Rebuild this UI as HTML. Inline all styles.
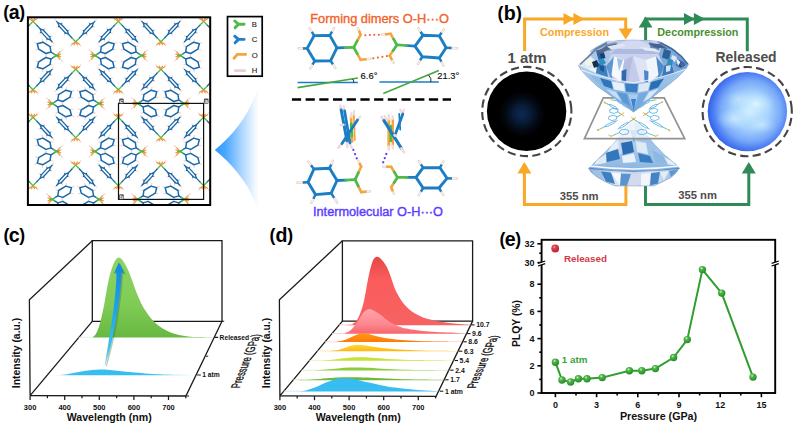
<!DOCTYPE html>
<html><head><meta charset="utf-8"><title>Figure</title>
<style>html,body{margin:0;padding:0;background:#fff}svg{display:block}text{font-family:"Liberation Sans",sans-serif}</style>
</head><body>
<svg width="794" height="424" viewBox="0 0 794 424">
<rect width="794" height="424" fill="#fff"/>
<clipPath id="clA"><rect x="28" y="17.5" width="182" height="187.5"/></clipPath><g clip-path="url(#clA)" fill="none" stroke-linecap="round" stroke-linejoin="round"><defs><g id="vgA"><path d="M10.6 -22.9L11.5 -20.4" stroke="#f1d6d0" stroke-width="1.2"/><path d="M10.5 -23L10.8 -22.2" stroke="#1d3a5c" stroke-width="1.1"/><path d="M16.4 -29.1L18.9 -28.3" stroke="#f1d6d0" stroke-width="1.2"/><path d="M16.3 -29.2L17.1 -28.9" stroke="#1d3a5c" stroke-width="1.1"/><path d="M8.5 -24.8L6 -25.6" stroke="#f1d6d0" stroke-width="1.2"/><path d="M8.6 -24.7L7.8 -25" stroke="#1d3a5c" stroke-width="1.1"/><path d="M14.3 -31L13.4 -33.5" stroke="#f1d6d0" stroke-width="1.2"/><path d="M14.4 -30.9L14 -31.7" stroke="#1d3a5c" stroke-width="1.1"/><path d="M19.1 -34.1L20.7 -35.8" stroke="#f1d6d0" stroke-width="1.2"/><path d="M0.3 -14L4 -17.9" stroke="#4cb648" stroke-width="1.3"/><path d="M3.9 -17.8L7.2 -21.3" stroke="#186aab" stroke-width="1.3"/><path d="M7.2 -21.3L10.3 -22.6L16.6 -29.3L17.7 -32.6L14.5 -31.3L8.2 -24.5Z" stroke="#186aab" stroke-width="1.3" fill="none"/><path d="M17.7 -32.6L19.1 -34.1" stroke="#186aab" stroke-width="1.3"/><path d="M-8.5 -24.8L-6 -25.6" stroke="#f1d6d0" stroke-width="1.2"/><path d="M-8.6 -24.7L-7.8 -25" stroke="#1d3a5c" stroke-width="1.1"/><path d="M-14.3 -31L-13.4 -33.5" stroke="#f1d6d0" stroke-width="1.2"/><path d="M-14.4 -30.9L-14 -31.7" stroke="#1d3a5c" stroke-width="1.1"/><path d="M-10.6 -22.9L-11.5 -20.4" stroke="#f1d6d0" stroke-width="1.2"/><path d="M-10.5 -23L-10.8 -22.2" stroke="#1d3a5c" stroke-width="1.1"/><path d="M-16.4 -29.1L-18.9 -28.3" stroke="#f1d6d0" stroke-width="1.2"/><path d="M-16.3 -29.2L-17.1 -28.9" stroke="#1d3a5c" stroke-width="1.1"/><path d="M-19.1 -34.1L-20.7 -35.8" stroke="#f1d6d0" stroke-width="1.2"/><path d="M-0.3 -14L-4 -17.9" stroke="#4cb648" stroke-width="1.3"/><path d="M-3.9 -17.8L-7.2 -21.3" stroke="#186aab" stroke-width="1.3"/><path d="M-7.2 -21.3L-8.2 -24.5L-14.5 -31.3L-17.7 -32.6L-16.6 -29.3L-10.3 -22.6Z" stroke="#186aab" stroke-width="1.3" fill="none"/><path d="M-17.7 -32.6L-19.1 -34.1" stroke="#186aab" stroke-width="1.3"/><path d="M-3.7 -11L-5.2 -9.3" stroke="#f1d6d0" stroke-width="1.1"/><path d="M3.7 -11L5.2 -9.3" stroke="#f1d6d0" stroke-width="1.1"/><path d="M-0.8 -13.1L-3.9 -11.2" stroke="#e9993a" stroke-width="1.25"/><path d="M-0.3 -13.1L-1.6 -10.7" stroke="#e9993a" stroke-width="1.25"/><path d="M0.3 -13.1L1.6 -10.7" stroke="#e9993a" stroke-width="1.25"/><path d="M0.8 -13.1L3.9 -11.2" stroke="#e9993a" stroke-width="1.25"/><path d="M8.5 24.8L6 25.6" stroke="#f1d6d0" stroke-width="1.2"/><path d="M8.6 24.7L7.8 25" stroke="#1d3a5c" stroke-width="1.1"/><path d="M14.3 31L13.4 33.5" stroke="#f1d6d0" stroke-width="1.2"/><path d="M14.4 30.9L14 31.7" stroke="#1d3a5c" stroke-width="1.1"/><path d="M10.6 22.9L11.5 20.4" stroke="#f1d6d0" stroke-width="1.2"/><path d="M10.5 23L10.8 22.2" stroke="#1d3a5c" stroke-width="1.1"/><path d="M16.4 29.1L18.9 28.3" stroke="#f1d6d0" stroke-width="1.2"/><path d="M16.3 29.2L17.1 28.9" stroke="#1d3a5c" stroke-width="1.1"/><path d="M19.1 34.1L20.7 35.8" stroke="#f1d6d0" stroke-width="1.2"/><path d="M0.3 14L4 17.9" stroke="#4cb648" stroke-width="1.3"/><path d="M3.9 17.8L7.2 21.3" stroke="#186aab" stroke-width="1.3"/><path d="M7.2 21.3L8.2 24.5L14.5 31.3L17.7 32.6L16.6 29.3L10.3 22.6Z" stroke="#186aab" stroke-width="1.3" fill="none"/><path d="M17.7 32.6L19.1 34.1" stroke="#186aab" stroke-width="1.3"/><path d="M-10.6 22.9L-11.5 20.4" stroke="#f1d6d0" stroke-width="1.2"/><path d="M-10.5 23L-10.8 22.2" stroke="#1d3a5c" stroke-width="1.1"/><path d="M-16.4 29.1L-18.9 28.3" stroke="#f1d6d0" stroke-width="1.2"/><path d="M-16.3 29.2L-17.1 28.9" stroke="#1d3a5c" stroke-width="1.1"/><path d="M-8.5 24.8L-6 25.6" stroke="#f1d6d0" stroke-width="1.2"/><path d="M-8.6 24.7L-7.8 25" stroke="#1d3a5c" stroke-width="1.1"/><path d="M-14.3 31L-13.4 33.5" stroke="#f1d6d0" stroke-width="1.2"/><path d="M-14.4 30.9L-14 31.7" stroke="#1d3a5c" stroke-width="1.1"/><path d="M-19.1 34.1L-20.7 35.8" stroke="#f1d6d0" stroke-width="1.2"/><path d="M-0.3 14L-4 17.9" stroke="#4cb648" stroke-width="1.3"/><path d="M-3.9 17.8L-7.2 21.3" stroke="#186aab" stroke-width="1.3"/><path d="M-7.2 21.3L-10.3 22.6L-16.6 29.3L-17.7 32.6L-14.5 31.3L-8.2 24.5Z" stroke="#186aab" stroke-width="1.3" fill="none"/><path d="M-17.7 32.6L-19.1 34.1" stroke="#186aab" stroke-width="1.3"/><path d="M-3.7 11L-5.2 9.3" stroke="#f1d6d0" stroke-width="1.1"/><path d="M3.7 11L5.2 9.3" stroke="#f1d6d0" stroke-width="1.1"/><path d="M-0.8 13.1L-3.9 11.2" stroke="#e9993a" stroke-width="1.25"/><path d="M-0.3 13.1L-1.6 10.7" stroke="#e9993a" stroke-width="1.25"/><path d="M0.3 13.1L1.6 10.7" stroke="#e9993a" stroke-width="1.25"/><path d="M0.8 13.1L3.9 11.2" stroke="#e9993a" stroke-width="1.25"/></g><g id="vgF"><path d="M-25.6 -8.9L-22.9 -9.6" stroke="#f1d6d0" stroke-width="1.2"/><path d="M-32.8 -13.3L-33.5 -16.1" stroke="#f1d6d0" stroke-width="1.2"/><path d="M-38.4 -11.7L-40.8 -13.1" stroke="#f1d6d0" stroke-width="1.2"/><path d="M-37 -6.3L-39.8 -5.7" stroke="#f1d6d0" stroke-width="1.2"/><path d="M-29.8 -2L-29.1 0.6" stroke="#f1d6d0" stroke-width="1.2"/><path d="M-24.8 -3.5L-25.6 -8.9L-32.8 -13.3L-38.4 -11.7L-37 -6.3L-29.8 -2Z" stroke="#186aab" stroke-width="1.5" fill="none"/><path d="M-24.8 -3.5L-21.9 -1.7" stroke="#186aab" stroke-width="1.4"/><path d="M-21.9 -1.7L-18.9 0" stroke="#4cb648" stroke-width="1.4"/><path d="M-25.6 8.9L-22.9 9.6" stroke="#f1d6d0" stroke-width="1.2"/><path d="M-32.8 13.3L-33.5 16.1" stroke="#f1d6d0" stroke-width="1.2"/><path d="M-38.4 11.7L-40.8 13.1" stroke="#f1d6d0" stroke-width="1.2"/><path d="M-37 6.3L-39.8 5.7" stroke="#f1d6d0" stroke-width="1.2"/><path d="M-29.8 2L-29.1 -0.6" stroke="#f1d6d0" stroke-width="1.2"/><path d="M-24.8 3.5L-25.6 8.9L-32.8 13.3L-38.4 11.7L-37 6.3L-29.8 2Z" stroke="#186aab" stroke-width="1.5" fill="none"/><path d="M-24.8 3.5L-21.9 1.7" stroke="#186aab" stroke-width="1.4"/><path d="M-21.9 1.7L-18.9 0" stroke="#4cb648" stroke-width="1.4"/><path d="M-15.5 -3.9L-13.3 -5.6" stroke="#f1d6d0" stroke-width="1.1"/><path d="M-15.5 3.9L-13.3 5.6" stroke="#f1d6d0" stroke-width="1.1"/><path d="M-18.4 -0.7L-15.9 -3.6" stroke="#e9993a" stroke-width="1.25"/><path d="M-18.4 -0.3L-15 -1.4" stroke="#e9993a" stroke-width="1.25"/><path d="M-18.4 0.3L-15 1.4" stroke="#e9993a" stroke-width="1.25"/><path d="M-18.4 0.7L-15.9 3.6" stroke="#e9993a" stroke-width="1.25"/><path d="M-20.4 0L-17.3 0" stroke="#4cb648" stroke-width="1.8"/><path d="M25.6 -8.9L22.9 -9.6" stroke="#f1d6d0" stroke-width="1.2"/><path d="M32.8 -13.3L33.5 -16.1" stroke="#f1d6d0" stroke-width="1.2"/><path d="M38.4 -11.7L40.8 -13.1" stroke="#f1d6d0" stroke-width="1.2"/><path d="M37 -6.3L39.8 -5.7" stroke="#f1d6d0" stroke-width="1.2"/><path d="M29.8 -2L29.1 0.6" stroke="#f1d6d0" stroke-width="1.2"/><path d="M24.8 -3.5L25.6 -8.9L32.8 -13.3L38.4 -11.7L37 -6.3L29.8 -2Z" stroke="#186aab" stroke-width="1.5" fill="none"/><path d="M24.8 -3.5L21.9 -1.7" stroke="#186aab" stroke-width="1.4"/><path d="M21.9 -1.7L18.9 0" stroke="#4cb648" stroke-width="1.4"/><path d="M25.6 8.9L22.9 9.6" stroke="#f1d6d0" stroke-width="1.2"/><path d="M32.8 13.3L33.5 16.1" stroke="#f1d6d0" stroke-width="1.2"/><path d="M38.4 11.7L40.8 13.1" stroke="#f1d6d0" stroke-width="1.2"/><path d="M37 6.3L39.8 5.7" stroke="#f1d6d0" stroke-width="1.2"/><path d="M29.8 2L29.1 -0.6" stroke="#f1d6d0" stroke-width="1.2"/><path d="M24.8 3.5L25.6 8.9L32.8 13.3L38.4 11.7L37 6.3L29.8 2Z" stroke="#186aab" stroke-width="1.5" fill="none"/><path d="M24.8 3.5L21.9 1.7" stroke="#186aab" stroke-width="1.4"/><path d="M21.9 1.7L18.9 0" stroke="#4cb648" stroke-width="1.4"/><path d="M15.5 -3.9L13.3 -5.6" stroke="#f1d6d0" stroke-width="1.1"/><path d="M15.5 3.9L13.3 5.6" stroke="#f1d6d0" stroke-width="1.1"/><path d="M18.4 -0.7L15.9 -3.6" stroke="#e9993a" stroke-width="1.25"/><path d="M18.4 -0.3L15 -1.4" stroke="#e9993a" stroke-width="1.25"/><path d="M18.4 0.3L15 1.4" stroke="#e9993a" stroke-width="1.25"/><path d="M18.4 0.7L15.9 3.6" stroke="#e9993a" stroke-width="1.25"/><path d="M20.4 0L17.3 0" stroke="#4cb648" stroke-width="1.8"/></g></defs><use href="#vgA" x="-9.6" y="55.5"/><use href="#vgA" x="-9.6" y="151.4"/><use href="#vgA" x="33" y="7.6"/><use href="#vgA" x="75.7" y="55.5"/><use href="#vgF" x="75.7" y="55.5"/><use href="#vgA" x="33" y="103.5"/><use href="#vgF" x="33" y="103.5"/><use href="#vgA" x="75.7" y="151.4"/><use href="#vgF" x="75.7" y="151.4"/><use href="#vgA" x="33" y="199.4"/><use href="#vgF" x="33" y="199.4"/><use href="#vgA" x="118.3" y="7.6"/><use href="#vgA" x="160.9" y="55.5"/><use href="#vgF" x="160.9" y="55.5"/><use href="#vgA" x="118.3" y="103.5"/><use href="#vgF" x="118.3" y="103.5"/><use href="#vgA" x="160.9" y="151.4"/><use href="#vgF" x="160.9" y="151.4"/><use href="#vgA" x="118.3" y="199.4"/><use href="#vgF" x="118.3" y="199.4"/><use href="#vgA" x="203.6" y="7.6"/><use href="#vgA" x="246.2" y="55.5"/><use href="#vgA" x="203.6" y="103.5"/><use href="#vgF" x="203.6" y="103.5"/><use href="#vgA" x="246.2" y="151.4"/><use href="#vgA" x="203.6" y="199.4"/><use href="#vgF" x="203.6" y="199.4"/></g><rect x="27.9" y="17.3" width="182.3" height="187.7" fill="none" stroke="#000" stroke-width="2"/><rect x="118.5" y="103.4" width="85.1" height="96" fill="none" stroke="#111" stroke-width="1.2"/><rect x="119.1" y="98.6" width="4.6" height="5.2" rx="1" fill="#555"/><text x="121.39999999999999" y="103.0" font-size="5.6" font-weight="bold" fill="#f4f4f4" text-anchor="middle">c</text><rect x="203.9" y="98.6" width="4.6" height="5.2" rx="1" fill="#555"/><text x="206.20000000000002" y="103.0" font-size="5.6" font-weight="bold" fill="#f4f4f4" text-anchor="middle">a</text><rect x="119.1" y="194.2" width="4.6" height="5.2" rx="1" fill="#555"/><text x="121.39999999999999" y="198.6" font-size="5.6" font-weight="bold" fill="#f4f4f4" text-anchor="middle">b</text>
<text x="3.2" y="17.6" font-weight="bold" fill="#000"><tspan font-size="17.6">(</tspan><tspan font-size="19.6" dy="1.1" dx="-0.4">a</tspan><tspan font-size="17.6" dy="-1.1" dx="-0.4">)</tspan></text><rect x="227.5" y="16.6" width="34.7" height="59.6" fill="#fff" stroke="#000" stroke-width="1.7"/><g stroke="#4dbb4a" stroke-width="2.9" stroke-linecap="round" fill="none"><path d="M238.5 24.2L244.1 24.2M238.5 24.2L234.7 21M238.5 24.2L235.1 27.6"/></g><g stroke="#1f7fcc" stroke-width="2.9" stroke-linecap="round" fill="none"><path d="M238.5 39.4L244.1 39.4M238.5 39.4L234.7 36.2M238.5 39.4L235.1 42.8"/></g><path d="M234 58.2L237.3 54.4L245.6 54.4" stroke="#f4a53c" stroke-width="2.9" stroke-linecap="round" stroke-linejoin="round" fill="none"/><path d="M235.2 70.7L244.6 70.7" stroke="#eccfd0" stroke-width="2.8" stroke-linecap="round"/><text x="251.8" y="26.9" font-size="7.7" fill="#1a1a1a" stroke="#1a1a1a" stroke-width="0.12">B</text><text x="251.8" y="42" font-size="7.7" fill="#1a1a1a" stroke="#1a1a1a" stroke-width="0.12">C</text><text x="251.8" y="57.6" font-size="7.7" fill="#1a1a1a" stroke="#1a1a1a" stroke-width="0.12">O</text><text x="251.8" y="73" font-size="7.7" fill="#1a1a1a" stroke="#1a1a1a" stroke-width="0.12">H</text><defs><linearGradient id="fg" x1="214" x2="259" y1="0" y2="0" gradientUnits="userSpaceOnUse"><stop offset="0" stop-color="#2f97ff"/><stop offset="0.25" stop-color="#4aa6ff"/><stop offset="0.6" stop-color="#a8d4ff"/><stop offset="0.9" stop-color="#eef7ff"/><stop offset="1" stop-color="#fff"/></linearGradient></defs><path d="M214.8 150 C232 136 250 116 259 84 L259 212 C250 184 232 164 214.8 150Z" fill="url(#fg)"/><text x="310.3" y="23.3" font-size="12.75" fill="#f4622a" stroke="#f4622a" stroke-width="0.35" textLength="138.8" lengthAdjust="spacingAndGlyphs">Forming dimers O-H···O</text><g fill="none"><path d="M365.3 35.2L378.9 34.7" stroke="#f4622a" stroke-width="2" stroke-dasharray="0.1 4.4" stroke-linecap="round"/><path d="M373.3 58.3L387 56.1" stroke="#f4622a" stroke-width="2" stroke-dasharray="0.1 4.5" stroke-linecap="round"/><path d="M331.6 32.4L334.2 28" stroke="#e3c9c3" stroke-width="2.3779999999999997" stroke-linecap="round"/><path d="M331.8 32L334 28.4" stroke="#fbf1ee" stroke-width="1.392" stroke-linecap="round"/><path d="M329.8 35.4L332 31.7" stroke="#1b7ec4" stroke-width="2.465" stroke-linecap="butt"/><path d="M312.3 32.7L309.6 28.3" stroke="#e3c9c3" stroke-width="2.3779999999999997" stroke-linecap="round"/><path d="M312 32.2L309.8 28.6" stroke="#fbf1ee" stroke-width="1.392" stroke-linecap="round"/><path d="M314.1 35.6L311.9 31.9" stroke="#1b7ec4" stroke-width="2.465" stroke-linecap="butt"/><path d="M303.8 48.4L298.6 48.3" stroke="#e3c9c3" stroke-width="2.3779999999999997" stroke-linecap="round"/><path d="M303.2 48.4L299 48.3" stroke="#fbf1ee" stroke-width="1.392" stroke-linecap="round"/><path d="M307.2 48.4L302.9 48.4" stroke="#1b7ec4" stroke-width="2.465" stroke-linecap="butt"/><path d="M313 64L310.4 68.4" stroke="#e3c9c3" stroke-width="2.3779999999999997" stroke-linecap="round"/><path d="M312.7 64.4L310.6 68.1" stroke="#fbf1ee" stroke-width="1.392" stroke-linecap="round"/><path d="M314.7 61L312.5 64.7" stroke="#1b7ec4" stroke-width="2.465" stroke-linecap="butt"/><path d="M332.5 63.6L335.4 67.9" stroke="#e3c9c3" stroke-width="2.3779999999999997" stroke-linecap="round"/><path d="M332.7 64.1L335.2 67.5" stroke="#fbf1ee" stroke-width="1.392" stroke-linecap="round"/><path d="M330.5 60.8L332.9 64.3" stroke="#1b7ec4" stroke-width="2.465" stroke-linecap="butt"/><path d="M359.4 31.7L358 28.2" stroke="#e3c9c3" stroke-width="2.3779999999999997" stroke-linecap="round"/><path d="M359.3 31.4L358.1 28.5" stroke="#fbf1ee" stroke-width="1.392" stroke-linecap="round"/><path d="M365 59.3L370.4 58.8" stroke="#e3c9c3" stroke-width="2.3779999999999997" stroke-linecap="round"/><path d="M365.5 59.3L370 58.8" stroke="#fbf1ee" stroke-width="1.392" stroke-linecap="round"/><path d="M360.6 34.6L359.3 31.4" stroke="#f4a53c" stroke-width="2.61" stroke-linecap="round"/><path d="M360.6 59.8L365.5 59.3" stroke="#f4a53c" stroke-width="2.61" stroke-linecap="round"/><path d="M357.2 41L360.6 34.6" stroke="#f4a53c" stroke-width="2.61" stroke-linecap="round"/><path d="M357.2 53.5L360.6 59.8" stroke="#f4a53c" stroke-width="2.61" stroke-linecap="round"/><path d="M353.8 47.3L357.3 40.7" stroke="#4dbb4a" stroke-width="2.755" stroke-linecap="round"/><path d="M353.8 47.3L357.3 53.8" stroke="#4dbb4a" stroke-width="2.755" stroke-linecap="round"/><path d="M336.9 47.9L345.4 47.6" stroke="#1b7ec4" stroke-width="2.755" stroke-linecap="round"/><path d="M345 47.6L353.8 47.3" stroke="#4dbb4a" stroke-width="2.755" stroke-linecap="round"/><path d="M336.9 47.9L329.8 35.4L314.1 35.6L307.2 48.4L314.7 61L330.5 60.8Z" stroke="#1b7ec4" stroke-width="2.9" fill="none" stroke-linejoin="round"/><path d="M421.1 32.5L418.4 28.3" stroke="#e3c9c3" stroke-width="2.3779999999999997" stroke-linecap="round"/><path d="M420.8 32.1L418.6 28.6" stroke="#fbf1ee" stroke-width="1.392" stroke-linecap="round"/><path d="M422.9 35.3L420.6 31.8" stroke="#1b7ec4" stroke-width="2.465" stroke-linecap="butt"/><path d="M441.1 33.3L443.9 29.5" stroke="#e3c9c3" stroke-width="2.3779999999999997" stroke-linecap="round"/><path d="M441.4 33L443.7 29.8" stroke="#fbf1ee" stroke-width="1.392" stroke-linecap="round"/><path d="M439.3 35.9L441.6 32.7" stroke="#1b7ec4" stroke-width="2.465" stroke-linecap="butt"/><path d="M450.5 48L457 48.3" stroke="#e3c9c3" stroke-width="2.3779999999999997" stroke-linecap="round"/><path d="M451.1 48L456.5 48.3" stroke="#fbf1ee" stroke-width="1.392" stroke-linecap="round"/><path d="M446.1 47.8L451.6 48" stroke="#1b7ec4" stroke-width="2.465" stroke-linecap="butt"/><path d="M440.9 61L443.4 65.4" stroke="#e3c9c3" stroke-width="2.3779999999999997" stroke-linecap="round"/><path d="M441.2 61.4L443.2 65" stroke="#fbf1ee" stroke-width="1.392" stroke-linecap="round"/><path d="M439.3 58L441.4 61.7" stroke="#1b7ec4" stroke-width="2.465" stroke-linecap="butt"/><path d="M420.6 59.6L417.9 63.8" stroke="#e3c9c3" stroke-width="2.3779999999999997" stroke-linecap="round"/><path d="M420.3 60L418.1 63.5" stroke="#fbf1ee" stroke-width="1.392" stroke-linecap="round"/><path d="M422.4 56.8L420.1 60.3" stroke="#1b7ec4" stroke-width="2.465" stroke-linecap="butt"/><path d="M386.6 34.2L381.6 34.6" stroke="#e3c9c3" stroke-width="2.3779999999999997" stroke-linecap="round"/><path d="M386.1 34.2L382 34.6" stroke="#fbf1ee" stroke-width="1.392" stroke-linecap="round"/><path d="M391.5 58.8L393.6 62.8" stroke="#e3c9c3" stroke-width="2.3779999999999997" stroke-linecap="round"/><path d="M391.7 59.2L393.4 62.5" stroke="#fbf1ee" stroke-width="1.392" stroke-linecap="round"/><path d="M390.6 33.8L386.1 34.2" stroke="#f4a53c" stroke-width="2.61" stroke-linecap="round"/><path d="M389.7 55.6L391.6 59.2" stroke="#f4a53c" stroke-width="2.61" stroke-linecap="round"/><path d="M393.8 39.3L390.6 33.8" stroke="#f4a53c" stroke-width="2.61" stroke-linecap="round"/><path d="M393.3 50.2L389.7 55.6" stroke="#f4a53c" stroke-width="2.61" stroke-linecap="round"/><path d="M396.9 44.9L393.6 39.1" stroke="#4dbb4a" stroke-width="2.755" stroke-linecap="round"/><path d="M396.9 44.9L393.2 50.5" stroke="#4dbb4a" stroke-width="2.755" stroke-linecap="round"/><path d="M415 46.1L405.9 45.5" stroke="#1b7ec4" stroke-width="2.755" stroke-linecap="round"/><path d="M406.3 45.5L396.9 44.9" stroke="#4dbb4a" stroke-width="2.755" stroke-linecap="round"/><path d="M415 46.1L422.9 35.3L439.3 35.9L446.1 47.8L439.3 58L422.4 56.8Z" stroke="#1b7ec4" stroke-width="2.9" fill="none" stroke-linejoin="round"/></g><path d="M297.6 82.5L357.9 82.5" stroke="#1b7ec4" stroke-width="1.6"/><path d="M297.6 87.6L357.9 78" stroke="#45a83c" stroke-width="1.6"/><path d="M352.5 79 Q354.2 80.6 353.6 82.5" stroke="#111" stroke-width="0.9" fill="none"/><text x="360.6" y="78.9" font-size="9.4" fill="#111" stroke="#111" stroke-width="0.15">6.6°</text><path d="M379.4 82L438.8 82" stroke="#1b7ec4" stroke-width="1.6"/><path d="M383.3 93.4L438.8 70.6" stroke="#45a83c" stroke-width="1.6"/><path d="M428.5 75 Q432 78.5 430.8 82" stroke="#111" stroke-width="0.9" fill="none"/><text x="437.3" y="79.1" font-size="9.4" fill="#111" stroke="#111" stroke-width="0.15">21.3°</text><path d="M291.9 99.4L451 99.4" stroke="#000" stroke-width="2.5" stroke-dasharray="9.2 4.5"/><g fill="none"><path d="M330.9 165.2L332.9 160.7" stroke="#e3c9c3" stroke-width="2.3779999999999997" stroke-linecap="round"/><path d="M331.1 164.8L332.7 161.1" stroke="#fbf1ee" stroke-width="1.392" stroke-linecap="round"/><path d="M329.6 168.2L331.2 164.4" stroke="#1b7ec4" stroke-width="2.465" stroke-linecap="butt"/><path d="M311.6 166L308.1 161.6" stroke="#e3c9c3" stroke-width="2.3779999999999997" stroke-linecap="round"/><path d="M311.2 165.6L308.4 162" stroke="#fbf1ee" stroke-width="1.392" stroke-linecap="round"/><path d="M313.9 169L311 165.3" stroke="#1b7ec4" stroke-width="2.465" stroke-linecap="butt"/><path d="M303.8 182.4L297.4 182.7" stroke="#e3c9c3" stroke-width="2.3779999999999997" stroke-linecap="round"/><path d="M303.2 182.4L297.9 182.7" stroke="#fbf1ee" stroke-width="1.392" stroke-linecap="round"/><path d="M308.1 182.2L302.8 182.4" stroke="#1b7ec4" stroke-width="2.465" stroke-linecap="butt"/><path d="M313.9 197.9L311.4 202.8" stroke="#e3c9c3" stroke-width="2.3779999999999997" stroke-linecap="round"/><path d="M313.6 198.4L311.6 202.4" stroke="#fbf1ee" stroke-width="1.392" stroke-linecap="round"/><path d="M315.5 194.6L313.4 198.7" stroke="#1b7ec4" stroke-width="2.465" stroke-linecap="butt"/><path d="M333.5 196.9L337 202.5" stroke="#e3c9c3" stroke-width="2.3779999999999997" stroke-linecap="round"/><path d="M333.9 197.5L336.7 202.1" stroke="#fbf1ee" stroke-width="1.392" stroke-linecap="round"/><path d="M331.2 193.2L334.1 197.8" stroke="#1b7ec4" stroke-width="2.465" stroke-linecap="butt"/><path d="M359.9 164L358.4 161" stroke="#e3c9c3" stroke-width="2.3779999999999997" stroke-linecap="round"/><path d="M359.8 163.7L358.5 161.2" stroke="#fbf1ee" stroke-width="1.392" stroke-linecap="round"/><path d="M365.2 191.7L370 191.3" stroke="#e3c9c3" stroke-width="2.3779999999999997" stroke-linecap="round"/><path d="M365.6 191.7L369.6 191.3" stroke="#fbf1ee" stroke-width="1.392" stroke-linecap="round"/><path d="M361.2 166.5L359.8 163.8" stroke="#f4a53c" stroke-width="2.61" stroke-linecap="round"/><path d="M361.2 192.1L365.6 191.7" stroke="#f4a53c" stroke-width="2.61" stroke-linecap="round"/><path d="M358.1 173.1L361.2 166.5" stroke="#f4a53c" stroke-width="2.61" stroke-linecap="round"/><path d="M358.1 185.9L361.2 192.1" stroke="#f4a53c" stroke-width="2.61" stroke-linecap="round"/><path d="M355.1 179.7L358.3 172.8" stroke="#4dbb4a" stroke-width="2.755" stroke-linecap="round"/><path d="M355.1 179.7L358.3 186.1" stroke="#4dbb4a" stroke-width="2.755" stroke-linecap="round"/><path d="M337 180.5L346.1 180.1" stroke="#1b7ec4" stroke-width="2.755" stroke-linecap="round"/><path d="M345.7 180.1L355.1 179.7" stroke="#4dbb4a" stroke-width="2.755" stroke-linecap="round"/><path d="M337 180.5L329.6 168.2L313.9 169L308.1 182.2L315.5 194.6L331.2 193.2Z" stroke="#1b7ec4" stroke-width="2.9" fill="none" stroke-linejoin="round"/><path d="M421.3 165L418.7 161" stroke="#e3c9c3" stroke-width="2.3779999999999997" stroke-linecap="round"/><path d="M421.1 164.6L418.9 161.3" stroke="#fbf1ee" stroke-width="1.392" stroke-linecap="round"/><path d="M423.1 167.7L420.9 164.3" stroke="#1b7ec4" stroke-width="2.465" stroke-linecap="butt"/><path d="M441.3 165.2L443.5 161.5" stroke="#e3c9c3" stroke-width="2.3779999999999997" stroke-linecap="round"/><path d="M441.6 164.8L443.3 161.8" stroke="#fbf1ee" stroke-width="1.392" stroke-linecap="round"/><path d="M439.9 167.7L441.7 164.6" stroke="#1b7ec4" stroke-width="2.465" stroke-linecap="butt"/><path d="M450.9 178.5L456.7 178.8" stroke="#e3c9c3" stroke-width="2.3779999999999997" stroke-linecap="round"/><path d="M451.5 178.5L456.2 178.8" stroke="#fbf1ee" stroke-width="1.392" stroke-linecap="round"/><path d="M447 178.3L451.9 178.6" stroke="#1b7ec4" stroke-width="2.465" stroke-linecap="butt"/><path d="M440.8 190.8L443.5 195.1" stroke="#e3c9c3" stroke-width="2.3779999999999997" stroke-linecap="round"/><path d="M441.1 191.3L443.3 194.8" stroke="#fbf1ee" stroke-width="1.392" stroke-linecap="round"/><path d="M439 188L441.2 191.6" stroke="#1b7ec4" stroke-width="2.465" stroke-linecap="butt"/><path d="M421.3 190.8L418.7 195.1" stroke="#e3c9c3" stroke-width="2.3779999999999997" stroke-linecap="round"/><path d="M421.1 191.3L418.9 194.8" stroke="#fbf1ee" stroke-width="1.392" stroke-linecap="round"/><path d="M423.1 188L420.9 191.6" stroke="#1b7ec4" stroke-width="2.465" stroke-linecap="butt"/><path d="M387.6 166.8L383.3 166.8" stroke="#e3c9c3" stroke-width="2.3779999999999997" stroke-linecap="round"/><path d="M387.2 166.8L383.6 166.8" stroke="#fbf1ee" stroke-width="1.392" stroke-linecap="round"/><path d="M392.4 190.1L393.9 193.6" stroke="#e3c9c3" stroke-width="2.3779999999999997" stroke-linecap="round"/><path d="M392.6 190.4L393.8 193.3" stroke="#fbf1ee" stroke-width="1.392" stroke-linecap="round"/><path d="M391.2 166.8L387.2 166.8" stroke="#f4a53c" stroke-width="2.61" stroke-linecap="round"/><path d="M391.2 187.2L392.5 190.4" stroke="#f4a53c" stroke-width="2.61" stroke-linecap="round"/><path d="M394.3 172.1L391.2 166.8" stroke="#f4a53c" stroke-width="2.61" stroke-linecap="round"/><path d="M394.3 182.3L391.2 187.2" stroke="#f4a53c" stroke-width="2.61" stroke-linecap="round"/><path d="M397.4 177.4L394.2 171.9" stroke="#4dbb4a" stroke-width="2.755" stroke-linecap="round"/><path d="M397.4 177.4L394.2 182.5" stroke="#4dbb4a" stroke-width="2.755" stroke-linecap="round"/><path d="M416 177.4L406.7 177.4" stroke="#1b7ec4" stroke-width="2.755" stroke-linecap="round"/><path d="M407.1 177.4L397.4 177.4" stroke="#4dbb4a" stroke-width="2.755" stroke-linecap="round"/><path d="M416 177.4L423.1 167.7L439.9 167.7L447 178.3L439 188L423.1 188Z" stroke="#1b7ec4" stroke-width="2.9" fill="none" stroke-linejoin="round"/><path d="M353.4 149.8L356.9 158.8" stroke="#5a3cff" stroke-width="2.2" stroke-dasharray="0.1 4.5" stroke-linecap="round"/><path d="M386.3 154L383.1 162.6" stroke="#5a3cff" stroke-width="2.2" stroke-dasharray="0.1 4.3" stroke-linecap="round"/><path d="M351 116.5L352.2 141.5" stroke="#f4a53c" stroke-width="2.6" stroke-linecap="round"/><path d="M353.8 114L354.8 140" stroke="#f4a53c" stroke-width="1.8" stroke-linecap="round"/><path d="M351.5 113L351.2 117" stroke="#f1dbd6" stroke-width="2.4" stroke-linecap="round"/><path d="M354 110.5L354 114.5" stroke="#f1dbd6" stroke-width="2" stroke-linecap="round"/><path d="M351.2 124L351.8 136" stroke="#4dbb4a" stroke-width="2.8" stroke-linecap="round"/><path d="M338.5 147.5L342 143.5" stroke="#f1dbd6" stroke-width="2.8" stroke-linecap="round"/><path d="M357 120.5L360.2 116.6" stroke="#f1dbd6" stroke-width="2.4" stroke-linecap="round"/><path d="M342 143.5L357.5 120" stroke="#1b7ec4" stroke-width="2.8" stroke-linecap="round"/><path d="M340.3 106L341.2 110" stroke="#f1dbd6" stroke-width="2.8" stroke-linecap="round"/><path d="M343.8 106.5L344.4 110.5" stroke="#f1dbd6" stroke-width="2.4" stroke-linecap="round"/><path d="M341.2 110L347 141" stroke="#1b7ec4" stroke-width="3" stroke-linecap="round"/><path d="M344.6 111L350 143" stroke="#1b7ec4" stroke-width="2.8" stroke-linecap="round"/><path d="M346.8 143.5L347.4 147" stroke="#f1dbd6" stroke-width="2.6" stroke-linecap="round"/><path d="M351 145L351.8 148" stroke="#f1dbd6" stroke-width="2.2" stroke-linecap="round"/><path d="M340.5 125.2L343.5 124.8" stroke="#f1dbd6" stroke-width="2.4" stroke-linecap="round"/><path d="M388.8 120L388.8 146" stroke="#f4a53c" stroke-width="2.8" stroke-linecap="round"/><path d="M392.8 119.5L392.8 145" stroke="#f4a53c" stroke-width="2.4" stroke-linecap="round"/><path d="M388.8 115.5L388.8 119.5" stroke="#f1dbd6" stroke-width="2.6" stroke-linecap="round"/><path d="M392.6 116L392.8 119" stroke="#f1dbd6" stroke-width="2.2" stroke-linecap="round"/><path d="M388.8 146.5L388.8 149.5" stroke="#f1dbd6" stroke-width="2.6" stroke-linecap="round"/><path d="M392.8 145.5L392.8 148.5" stroke="#f1dbd6" stroke-width="2.2" stroke-linecap="round"/><path d="M390.8 126L390.8 141" stroke="#4dbb4a" stroke-width="2.6" stroke-linecap="round"/><path d="M400.5 110L402.8 114" stroke="#f1dbd6" stroke-width="2.6" stroke-linecap="round"/><path d="M404 109.5L403.2 113" stroke="#f1dbd6" stroke-width="2" stroke-linecap="round"/><path d="M402.8 114L394.5 136.5" stroke="#1b7ec4" stroke-width="2.8" stroke-linecap="round"/><path d="M399.2 114L400.2 129.5" stroke="#1b7ec4" stroke-width="1.8" stroke-linecap="round"/><path d="M381.5 117L384 120.6" stroke="#f1dbd6" stroke-width="2.8" stroke-linecap="round"/><path d="M384.5 116L386.2 119.4" stroke="#f1dbd6" stroke-width="2.2" stroke-linecap="round"/><path d="M384 120.6L401.5 148.5" stroke="#1b7ec4" stroke-width="3.2" stroke-linecap="round"/><path d="M401.5 148.5L404 152.2" stroke="#f1dbd6" stroke-width="2.8" stroke-linecap="round"/><path d="M394.6 135.2L395.6 135.6" stroke="#f1dbd6" stroke-width="2.8" stroke-linecap="round"/></g><text x="313" y="216.3" font-size="12.65" fill="#5a3cff" stroke="#5a3cff" stroke-width="0.4" textLength="130" lengthAdjust="spacingAndGlyphs">Intermolecular O-H···O</text>
<text x="497.6" y="19.2" font-weight="bold" fill="#000"><tspan font-size="17.6">(</tspan><tspan font-size="19.6" dy="1.1" dx="0.3">b</tspan><tspan font-size="17.6" dy="-1.1" dx="0.3">)</tspan></text><g fill="none" stroke="#f9a826" stroke-width="3" stroke-linejoin="miter"><path d="M524.6 51V18.9H625.7V31"/><path d="M625.9 180V204.5H524.4V172"/></g><g fill="#f9a826"><path d="M618.6 28.4H632.8L625.7 39.6Z"/><path d="M563.5 12.9L574.4 18.9L563.5 24.9Z"/><path d="M573.4 12.9L584.4 18.9L573.4 24.9Z"/><path d="M517.4 173.4H531.4L524.4 162Z"/></g><g fill="none" stroke="#2e8b57" stroke-width="3" stroke-linejoin="miter"><path d="M645.6 48V19H747.3V51.2"/><path d="M645.5 180V204.5H748.8V172"/></g><g fill="#2e8b57"><path d="M638.7 27.6H652.5L645.6 16.6Z"/><path d="M684 12.9L694.9 19L684 25Z"/><path d="M693.9 12.9L705 19L693.9 25Z"/><path d="M741.8 173.4H755.8L748.8 162Z"/></g><text x="540" y="35.6" font-size="10.8" font-weight="bold" fill="#f9a826" textLength="69" lengthAdjust="spacingAndGlyphs">Compression</text><text x="657.3" y="35.8" font-size="10.8" font-weight="bold" fill="#4a8f30" textLength="81.2" lengthAdjust="spacingAndGlyphs">Decompression</text><text x="507.6" y="62.8" font-size="14" font-weight="bold" fill="#4d4d4d" textLength="39" lengthAdjust="spacingAndGlyphs">1 atm</text><text x="715.6" y="62.3" font-size="14" font-weight="bold" fill="#4d4d4d" textLength="61" lengthAdjust="spacingAndGlyphs">Released</text><text x="559.8" y="200" font-size="11" font-weight="bold" fill="#4d4d4d" textLength="38.8" lengthAdjust="spacingAndGlyphs">355 nm</text><text x="678.2" y="198.5" font-size="11" font-weight="bold" fill="#4d4d4d" textLength="38.8" lengthAdjust="spacingAndGlyphs">355 nm</text><defs>
<radialGradient id="dk" cx="522" cy="114" r="40" gradientUnits="userSpaceOnUse"><stop offset="0" stop-color="#0d2a54"/><stop offset="0.2" stop-color="#091d3b"/><stop offset="0.42" stop-color="#030912"/><stop offset="0.58" stop-color="#000"/><stop offset="1" stop-color="#000"/></radialGradient>
<radialGradient id="bl" cx="751" cy="111" r="42" gradientUnits="userSpaceOnUse"><stop offset="0" stop-color="#c6ecff"/><stop offset="0.42" stop-color="#a6d2fe"/><stop offset="0.72" stop-color="#78a9f9"/><stop offset="0.9" stop-color="#4c7df2"/><stop offset="1" stop-color="#3866ea"/></radialGradient>
<radialGradient id="bl2" cx="0.5" cy="0.5" r="0.5"><stop offset="0" stop-color="#e2f8ff" stop-opacity="0.85"/><stop offset="1" stop-color="#bfe4ff" stop-opacity="0"/></radialGradient>
<clipPath id="clB"><circle cx="747.4" cy="111.6" r="39.7"/></clipPath>
</defs><circle cx="526.8" cy="111.5" r="44.6" fill="none" stroke="#444" stroke-width="2.1" stroke-dasharray="8.2 4.3" transform="rotate(-8 526.8 111.5)"/><circle cx="526.6" cy="111.2" r="39.7" fill="url(#dk)"/><circle cx="747.2" cy="111.6" r="44.6" fill="none" stroke="#444" stroke-width="2.1" stroke-dasharray="8.2 4.3" transform="rotate(-8 747.2 111.6)"/><circle cx="747.4" cy="111.6" r="39.7" fill="url(#bl)"/><g clip-path="url(#clB)"><ellipse cx="756" cy="104" rx="19" ry="13" fill="url(#bl2)"/><ellipse cx="734" cy="119" rx="18" ry="11" fill="url(#bl2)" opacity="0.7"/><ellipse cx="762" cy="125" rx="15" ry="9" fill="url(#bl2)" opacity="0.6"/><ellipse cx="738" cy="99" rx="13" ry="9" fill="url(#bl2)" opacity="0.45"/><ellipse cx="748" cy="112" rx="14" ry="9" fill="url(#bl2)" opacity="0.5"/></g><defs>
<linearGradient id="dg3" x1="0" y1="118" x2="0" y2="170" gradientUnits="userSpaceOnUse"><stop offset="0" stop-color="#d5e4f5"/><stop offset="0.45" stop-color="#b3cfec"/><stop offset="1" stop-color="#8ab5e0"/></linearGradient>
<linearGradient id="dg4" x1="0" y1="0" x2="1" y2="0"><stop offset="0" stop-color="#7ba9d8"/><stop offset="0.3" stop-color="#dbe6f4"/><stop offset="0.5" stop-color="#c8d0ec"/><stop offset="0.7" stop-color="#e0eaf6"/><stop offset="1" stop-color="#86b0da"/></linearGradient>
</defs><path d="M634 119L641 127L649 139.4L657 147L665 155.4L672 161L677.4 165.8L679.3 168.6L634 173L588.7 168.6L591.5 165.8L597 160L604.8 152.6L611 146L618 139.4L626 128Z" fill="url(#dg3)" stroke="#9ab6d8" stroke-width="0.9" stroke-linejoin="round"/><path d="M588.7 168L634 171L679.3 168L676 173L670.8 177.5L662 182L653.8 185.8L615 185.8L606 182L597 177L591 172Z" fill="url(#dg4)" stroke="#8aa8cf" stroke-width="0.9" stroke-linejoin="round"/><path d="M626 128L634 122L631 146L618 156L611 146Z" fill="#c3d8f0"/><path d="M634 122L641 127L657 147L650 157L637 146Z" fill="#9fc3e8"/><path d="M630 130L637 130L634 143Z" fill="#6fa2d6"/><path d="M621 143L632 141L634 152L623 155Z" fill="#2a6db4"/><path d="M636 141L646 143L648 154L637 152Z" fill="#dfeaf7"/><path d="M606 153L618 149L620 159L607 162Z" fill="#3577bc"/><path d="M622 156L634 153.5L636 162L623 163Z" fill="#e9f1fa"/><path d="M638 153L650 156L653 163L640 162Z" fill="#3a7cc2"/><path d="M652 150L662 155L668 163L656 162Z" fill="#8db8e2"/><path d="M597 160L606 154L606 163L594 165Z" fill="#dfeaf6"/><path d="M664 157L672 161L676 165.5L668 164.5Z" fill="#e2ecf7"/><path d="M611 146L618 140L619 148L608 152Z" fill="#e4edf8"/><path d="M590 166Q634 172 678.5 166" stroke="#f2f7fc" stroke-width="1.5" fill="none"/><path d="M589.5 168.3Q634 174.5 679 168.3" stroke="#3b7cc0" stroke-width="1" fill="none" opacity="0.7"/><path d="M591 170L601 171.5L604 180L597 177Z" fill="#9fc1e4"/><path d="M601 171.5L611 172.5L615 184L606 181.5Z" fill="#3d80c2"/><path d="M611 172.5L621 173.5L620 185.5Z" fill="#f6f9fd"/><path d="M621 173.5L631 174L627 185.6L620 185.5Z" fill="#5a94cd"/><path d="M631 174L641 174L639 185.6L629 185.6Z" fill="#d3daf0"/><path d="M641 174L651 173L649 185.5L641 185.6Z" fill="#f2f6fc"/><path d="M651 173L660 172L658 183.5L650 185.4Z" fill="#4484c4"/><path d="M660 172L669 171L664 180.5Z" fill="#e3ecf7"/><path d="M669 171L678 169.5L671 177Z" fill="#5f98d0"/><path d="M603.3 97.8H664.2L684.7 138.6H584.4Z" fill="#fff" fill-opacity="0.72" stroke="#929292" stroke-width="1.7" stroke-linejoin="miter"/><g fill="none" stroke-linecap="round" stroke-width="0.7"><path d="M604.7 102.5L607.4 103.9" stroke="#55b84a"/><path d="M607.4 103.9L609.6 104.9" stroke="#3aa0dc"/><path d="M609.6 104.9L610.6 106.4L615.2 108.7L616.9 108.6L616 107.1L611.4 104.8Z" stroke="#3aa0dc"/><path d="M616.9 108.6L618.3 109.3" stroke="#3aa0dc"/><circle cx="604.7" cy="102.5" r="0.9" fill="#f0a040" stroke="none"/><path d="M662 102.2L659.4 103.5" stroke="#55b84a"/><path d="M659.4 103.5L657.3 104.5" stroke="#3aa0dc"/><path d="M657.3 104.5L655.6 104.4L651.2 106.6L650.3 108L652 108.2L656.4 106Z" stroke="#3aa0dc"/><path d="M650.3 108L649 108.7" stroke="#3aa0dc"/><circle cx="662" cy="102.2" r="0.9" fill="#f0a040" stroke="none"/><path d="M598 130L601.8 128.1" stroke="#55b84a"/><path d="M601.8 128.1L604.9 126.6" stroke="#3aa0dc"/><path d="M604.9 126.6L607.2 126.5L613.8 123.3L615.3 121.5L613 121.7L606.4 124.9Z" stroke="#3aa0dc"/><path d="M615.3 121.5L617.2 120.6" stroke="#3aa0dc"/><circle cx="598" cy="130" r="0.9" fill="#f0a040" stroke="none"/><path d="M669.4 130.3L665.5 128.4" stroke="#55b84a"/><path d="M665.5 128.4L662.4 126.8" stroke="#3aa0dc"/><path d="M662.4 126.8L660.9 125L654.3 121.7L651.9 121.6L653.5 123.3L660.1 126.6Z" stroke="#3aa0dc"/><path d="M651.9 121.6L650 120.6" stroke="#3aa0dc"/><circle cx="669.4" cy="130.3" r="0.9" fill="#f0a040" stroke="none"/><path d="M633.6 119.2L630.4 121.2" stroke="#55b84a"/><path d="M630.4 121.2L627.9 122.8" stroke="#3aa0dc"/><path d="M627.9 122.8L625.9 123L620.5 126.4L619.4 128.1L621.4 127.9L626.8 124.5Z" stroke="#3aa0dc"/><path d="M619.4 128.1L617.8 129.1" stroke="#3aa0dc"/><circle cx="633.6" cy="119.2" r="0.9" fill="#f0a040" stroke="none"/><path d="M633.6 119.2L636.8 121.2" stroke="#55b84a"/><path d="M636.8 121.2L639.3 122.8" stroke="#3aa0dc"/><path d="M639.3 122.8L640.4 124.5L645.8 127.9L647.8 128.1L646.7 126.4L641.3 123Z" stroke="#3aa0dc"/><path d="M647.8 128.1L649.4 129.1" stroke="#3aa0dc"/><circle cx="633.6" cy="119.2" r="0.9" fill="#f0a040" stroke="none"/><path d="M633.6 109.8L631.1 108.5" stroke="#55b84a"/><path d="M631.1 108.5L629.1 107.5" stroke="#3aa0dc"/><path d="M629.1 107.5L628.2 106.1L623.9 103.9L622.3 104L623.1 105.5L627.4 107.7Z" stroke="#3aa0dc"/><path d="M622.3 104L621 103.4" stroke="#3aa0dc"/><circle cx="633.6" cy="109.8" r="0.9" fill="#f0a040" stroke="none"/><path d="M633.6 109.8L636.1 108.5" stroke="#55b84a"/><path d="M636.1 108.5L638.1 107.5" stroke="#3aa0dc"/><path d="M638.1 107.5L639.7 107.7L643.9 105.5L644.8 104L643.1 103.9L638.9 106.1Z" stroke="#3aa0dc"/><path d="M644.8 104L646 103.4" stroke="#3aa0dc"/><circle cx="633.6" cy="109.8" r="0.9" fill="#f0a040" stroke="none"/><path d="M617.7 111.8L614.4 113.4L610.2 112.5L609.5 110L612.8 108.4L617 109.3Z" stroke="#3aa0dc"/><path d="M617.7 111.8L619.6 113.1" stroke="#3aa0dc"/><path d="M619.6 113.1L621.5 114.4" stroke="#55b84a"/><path d="M616.9 117.1L616.1 119.7L611.8 120.6L608.3 118.9L609.1 116.3L613.4 115.4Z" stroke="#3aa0dc"/><path d="M616.9 117.1L619.2 115.8" stroke="#3aa0dc"/><path d="M619.2 115.8L621.5 114.4" stroke="#55b84a"/><path d="M657.5 110L656.8 112.5L652.6 113.4L649.3 111.8L650 109.3L654.2 108.4Z" stroke="#3aa0dc"/><path d="M649.3 111.8L647.4 113" stroke="#3aa0dc"/><path d="M647.4 113L645.5 114.2" stroke="#55b84a"/><path d="M658.9 118.9L655.4 120.6L651.1 119.7L650.3 117.1L653.8 115.4L658.1 116.3Z" stroke="#3aa0dc"/><path d="M650.3 117.1L647.9 115.7" stroke="#3aa0dc"/><path d="M647.9 115.7L645.5 114.2" stroke="#55b84a"/><path d="M628.8 131.3L627.5 134L622.7 134.7L619.2 132.7L620.5 130L625.3 129.3Z" stroke="#3aa0dc"/><path d="M619.2 132.7L615.1 134.5" stroke="#3aa0dc"/><path d="M615.1 134.5L611 136.3" stroke="#55b84a"/><path d="M646.8 132.7L643.3 134.7L638.5 134L637.2 131.3L640.7 129.3L645.5 130Z" stroke="#3aa0dc"/><path d="M646.8 132.7L651.3 134.5" stroke="#3aa0dc"/><path d="M651.3 134.5L655.8 136.2" stroke="#55b84a"/><path d="M625.2 102L622.5 103.4L618.8 102.9L617.8 101L620.5 99.6L624.2 100.1Z" stroke="#3aa0dc"/><path d="M617.8 101L614.4 100.4" stroke="#3aa0dc"/><path d="M614.4 100.4L611 99.8" stroke="#55b84a"/><path d="M649.2 101L648.2 102.9L644.5 103.4L641.8 102L642.8 100.1L646.5 99.6Z" stroke="#3aa0dc"/><path d="M649.2 101L652.6 100.4" stroke="#3aa0dc"/><path d="M652.6 100.4L656 99.8" stroke="#55b84a"/><path d="M621.5 114.4L623.9 112.8M621.5 114.4L623.9 116" stroke="#f0a040" stroke-width="0.9"/><path d="M645.5 114.2L643.1 112.6M645.5 114.2L643.1 115.8" stroke="#f0a040" stroke-width="0.9"/><path d="M633.6 119.2L631.6 117.6M633.6 119.2L635.6 117.6" stroke="#f0a040" stroke-width="0.9"/><path d="M611 136.3L608.8 135M655.8 136.2L658 135" stroke="#f0a040" stroke-width="0.9"/></g><defs>
<linearGradient id="dg1" x1="0" y1="0" x2="1" y2="0"><stop offset="0" stop-color="#b7d0ea"/><stop offset="0.22" stop-color="#9dc0e4"/><stop offset="0.5" stop-color="#cfd6ee"/><stop offset="0.78" stop-color="#86b0dc"/><stop offset="1" stop-color="#6f9fd2"/></linearGradient>
<linearGradient id="dg2" x1="0" y1="70" x2="0" y2="112" gradientUnits="userSpaceOnUse"><stop offset="0" stop-color="#a9cbec"/><stop offset="0.4" stop-color="#93bce6"/><stop offset="1" stop-color="#6fa4da"/></linearGradient>
</defs><path d="M607 42.6L619.3 40.5L633 40.2L649 40.6L660.4 42L671.7 48.2L681.2 55.7L688.4 64.2L686 69L678 77L667 86L654 96L642 105.5L633.6 112L625 105.5L610.5 95.5L597 86L587.5 77L581 70L578.6 65.2L588.2 56.6L595.7 49.1Z" fill="url(#dg1)" stroke="#8aa8cf" stroke-width="0.9" stroke-linejoin="round"/><path d="M581 70L596 75L612 80L633 83L655 80L672 75L686 69L678 77L667 86L654 96L642 105.5L633.6 112L625 105.5L610.5 95.5L597 86L587.5 77Z" fill="url(#dg2)"/><path d="M607.5 40.8L656.6 40.8L662 47L658.5 54L611 54L604 47Z" fill="#c3cde9"/><path d="M626 40.6L640 40.6L652 47L633 52L614 47Z" fill="#d3daf0"/><path d="M604 44.5L617 42L614 50L606.5 51Z" fill="#7896bd"/><path d="M649 42L661 45.5L658 51.5L651 50Z" fill="#5f86b4"/><path d="M611 54L616 49L650 49L658.5 54Z" fill="#aebbe0"/><path d="M611 54L658.5 54L664 66L652 82L616 82L606 66Z" fill="#ccd2ed"/><path d="M606 66L614 56.5L611.5 80Z" fill="#5e96cf"/><path d="M614 56.5L624.5 60L620.5 82L611.5 75Z" fill="#f5f8fd"/><path d="M664 66L656 56.5L658.5 80Z" fill="#4d8ac8"/><path d="M656 56.5L645.5 60L649.5 82L658.5 75Z" fill="#f1f5fc"/><path d="M624.5 60L633 56L628.5 82L620.5 82Z" fill="#b4bee3"/><path d="M633 56L645.5 60L649.5 82L640 82Z" fill="#dfe4f5"/><path d="M633 56L640 82L628.5 82Z" fill="#c5cbea"/><path d="M621.5 71L626.5 69L626 82L622 82Z" fill="#2f6aae"/><path d="M644 70L648.5 71.5L648 82L644.5 82Z" fill="#4a86c6"/><path d="M617 58L623 60L619 71Z" fill="#9bbfe6"/><path d="M590 51L604 47L611 54L606 66L596 62Z" fill="#a9c6e6"/><path d="M596 50.5L603 49L605.5 58L598.5 60Z" fill="#2d629b"/><path d="M600 54L604 53L605 58L601 59Z" fill="#173f73"/><path d="M578.2 65L590 55.5L597 62L588 69.5Z" fill="#dde8f3"/><path d="M584 60L592 58L594 64L586 66Z" fill="#f0f5ea"/><path d="M597 62L606 66L608 77L596 73Z" fill="#3e7fbf"/><path d="M588 69.5L597 62L596 73Z" fill="#eef4f4"/><path d="M590 51L596 47L607.5 40.8L604 47Z" fill="#8aa9cf"/><path d="M599 64L604 66L604 72L600 70Z" fill="#1d5597"/><path d="M676 50.5L662 47L658.5 54L664 66L672 62Z" fill="#80aad7"/><path d="M664 49L671 51L669 60L662 57.5Z" fill="#2a5f98"/><path d="M688.6 64L677 55.5L671 62L679 69.5Z" fill="#6f9dd1"/><path d="M679 60L685 63L681 68L676 65Z" fill="#214f8b"/><path d="M671 62L664 66L662 77L674 73Z" fill="#3b7bbc"/><path d="M672 55L677 57L675 62L671 60Z" fill="#dbe8f5"/><path d="M676 50.5L668 46L656.6 40.8L662 47Z" fill="#7798c3"/><path d="M666 66L671 65L670 71L666 72Z" fill="#d4e4f4"/><path d="M581 70Q606 79 633 83Q660 79 686 69" stroke="#eaf2fb" stroke-width="1.3" fill="none" opacity="0.9"/><path d="M590 75L600 78L604 86L595 81Z" fill="#8cb8e4"/><path d="M600 78L611 81L613 89L604 86Z" fill="#2f74bc"/><path d="M612 81.5L624 83.5L625 91.5L614 89.5Z" fill="#e8f0fa"/><path d="M625 83.5L638 84L637 92.5L626 91.5Z" fill="#3a7ec4"/><path d="M639 84L650 82.5L648 90.5L638 92.5Z" fill="#dce8f6"/><path d="M651 82L664 78.5L658 87.5L649 90.5Z" fill="#2a6eb8"/><path d="M665 78L678 74L668 83L660 87Z" fill="#9cc0e6"/><path d="M606 89L616 92L622 101.5L613 95.5Z" fill="#c9ddf3"/><path d="M617 92L627 94L630 106L623 102Z" fill="#5b98d6"/><path d="M628 94L638 94.5L633.6 110.5Z" fill="#a9cbec"/><path d="M639 94L648 92L641 103L636 108Z" fill="#74a9e0"/><path d="M649 92L659 88.5L650 98L643 102Z" fill="#d8e6f6"/><path d="M631 99L636 99L633.6 111Z" fill="#3a82ca"/><path d="M580 64.5L588.2 56.8L595.7 49.4L607 43" stroke="#5d7296" stroke-width="1.6" fill="none" opacity="0.85"/><path d="M660.4 42.6L671.5 48.6L681 56L687.6 64" stroke="#3d5f94" stroke-width="1.6" fill="none" opacity="0.85"/><path d="M596 52L607 45.5L618 43.5L612 48L603 52.5Z" fill="#54688c"/><path d="M607 46.5L622 43.5L626 46L612 50Z" fill="#dfe6f3"/><path d="M648 43.5L660 44L668 49L655 47.5Z" fill="#46618f"/><path d="M640 47L655 48.5L661 52L645 50.5Z" fill="#e4eaf5"/><path d="M598 60L603 58L606 63L601 66Z" fill="#2e8fbf"/><path d="M592 62L597 60L599 66L594 68Z" fill="#16304f"/><path d="M668 58L673 60L672 66L667 64Z" fill="#2e8fbf"/><path d="M676 58.5L680.5 62L678 66Z" fill="#f1f6fb"/><path d="M682 61L686 64.5L683 67.5L680 65Z" fill="#3f6aa6"/>
<text x="3.4" y="241.1" font-weight="bold" fill="#000"><tspan font-size="17.6">(</tspan><tspan font-size="19.6" dy="1.1" dx="-0.4">c</tspan><tspan font-size="17.6" dy="-1.1" dx="-0.4">)</tspan></text><text x="269.6" y="241.1" font-weight="bold" fill="#000"><tspan font-size="17.6">(</tspan><tspan font-size="19.6" dy="1.1" dx="0.1">d</tspan><tspan font-size="17.6" dy="-1.1" dx="-0.4">)</tspan></text><defs>
<linearGradient id="gGreen" x1="0" y1="257" x2="0" y2="338" gradientUnits="userSpaceOnUse"><stop offset="0" stop-color="#8ed463"/><stop offset="0.6" stop-color="#7fcb55"/><stop offset="1" stop-color="#66b840"/></linearGradient>
<linearGradient id="gArr" x1="0" y1="262" x2="0" y2="366" gradientUnits="userSpaceOnUse"><stop offset="0" stop-color="#1487e0"/><stop offset="0.45" stop-color="#1ea2ea"/><stop offset="0.85" stop-color="#3cc6f0"/><stop offset="1" stop-color="#c8d8de"/></linearGradient>
<linearGradient id="gB1" x1="52" x2="197" y1="0" y2="0" gradientUnits="userSpaceOnUse"><stop offset="0" stop-color="#38bdf2" stop-opacity="0"/><stop offset="0.12" stop-color="#38bdf2" stop-opacity="1"/><stop offset="0.72" stop-color="#38bdf2" stop-opacity="1"/><stop offset="1" stop-color="#38bdf2" stop-opacity="0.1"/></linearGradient>
<linearGradient id="gRed" x1="0" y1="257" x2="0" y2="325" gradientUnits="userSpaceOnUse"><stop offset="0" stop-color="#e64848"/><stop offset="0.35" stop-color="#fb5c5c"/><stop offset="1" stop-color="#f76262"/></linearGradient>
<linearGradient id="gPink" x1="0" y1="309" x2="0" y2="334" gradientUnits="userSpaceOnUse"><stop offset="0" stop-color="#ffa4ab"/><stop offset="0.6" stop-color="#fd8890"/><stop offset="1" stop-color="#f8646c"/></linearGradient>
<linearGradient id="gOr" x1="0" y1="333" x2="0" y2="342" gradientUnits="userSpaceOnUse"><stop offset="0" stop-color="#ff9a18"/><stop offset="1" stop-color="#ff7a08"/></linearGradient>
<linearGradient id="gYe" x1="0" y1="344" x2="0" y2="351" gradientUnits="userSpaceOnUse"><stop offset="0" stop-color="#ffdc30"/><stop offset="1" stop-color="#ffb818"/></linearGradient>
</defs><g stroke="#1a1a1a" stroke-width="1.3" fill="none" stroke-linejoin="miter"><path d="M92.3 321.3V240.7H222V321.3Z"/><path d="M30.1 395.6L92.3 321.3M30.1 395.6L29.4 299.9L92.3 240.7"/><path d="M30.1 395.6L185.9 396L222 321.3"/></g><g stroke="#1a1a1a" stroke-width="1.25"><path d="M30.1 395.8V400"/><path d="M47.4 395.8V398.2"/><path d="M64.7 395.8V400"/><path d="M82 395.8V398.2"/><path d="M99.3 395.8V400"/><path d="M116.6 395.8V398.2"/><path d="M133.9 395.8V400"/><path d="M151.2 395.8V398.2"/><path d="M168.5 395.8V400"/><path d="M185.8 395.8V398.2"/></g><text x="30.1" y="409.7" font-size="7.5" font-weight="bold" text-anchor="middle" fill="#111">300</text><text x="64.7" y="409.7" font-size="7.5" font-weight="bold" text-anchor="middle" fill="#111">400</text><text x="99.3" y="409.7" font-size="7.5" font-weight="bold" text-anchor="middle" fill="#111">500</text><text x="133.9" y="409.7" font-size="7.5" font-weight="bold" text-anchor="middle" fill="#111">600</text><text x="168.5" y="409.7" font-size="7.5" font-weight="bold" text-anchor="middle" fill="#111">700</text><g stroke="#1a1a1a" stroke-width="1.1"><path d="M214.6 337.4h3.6M197.2 375h3.6M206 356.2h2.2M222 321.3h2.2M186.9 396h2.2"/></g><text x="219.6" y="339.7" font-size="6.7" font-weight="bold" fill="#111">Released</text><text x="202.2" y="377.3" font-size="6.7" font-weight="bold" fill="#111">1 atm</text><text x="109.2" y="421.1" font-size="10.6" font-weight="bold" fill="#111" text-anchor="middle">Wavelength (nm)</text><text transform="translate(20.2 353) rotate(-90)" font-size="10.4" font-weight="bold" fill="#111" text-anchor="middle">Intensity (a.u.)</text><text transform="matrix(0.306 -0.777 1.28 0 239.4 388.2)" font-size="10" fill="#111" stroke="#111" stroke-width="0.28">Pressure (GPa)</text><path d="M92 337.4C92.6 336.9 94.5 336 95.6 334.4C96.7 332.8 97.6 330.6 98.5 328C99.4 325.4 100.2 322.7 101.2 318.5C102.2 314.3 103.3 309.1 104.5 303C105.7 296.9 107 287.5 108.3 281.7C109.5 275.9 110.8 271.6 112 268C113.2 264.4 114.4 261.8 115.5 260C116.6 258.2 117.7 257.5 118.8 257.4C119.9 257.3 121 258.4 122 259.5C123 260.6 124 262.2 125 264C126 265.8 127 267.6 128.2 270.3C129.4 273 130.6 276.2 132 280C133.4 283.8 135.2 289.2 136.7 293C138.2 296.8 139.6 300.1 141 303C142.4 305.9 143.8 308.1 145.2 310.3C146.6 312.6 148.1 314.7 149.5 316.5C150.9 318.3 152.1 319.7 153.7 321.3C155.3 322.9 157.1 324.6 159 326C160.9 327.4 162.8 328.6 165 329.8C167.2 331 169.7 332.1 172 333C174.3 333.9 176.3 334.4 179 335C181.7 335.6 184.7 336 188 336.4C191.3 336.8 194.8 336.9 199 337.1C203.2 337.3 210.7 337.3 213 337.4L213 337.6L92 337.6Z" fill="url(#gGreen)"/><path d="M78.7 337.4H93" stroke="#dff0d4" stroke-width="0.8"/><path d="M56 375C57.3 374.9 61.3 374.7 64 374.4C66.7 374.1 69.3 373.6 72 373.2C74.7 372.8 77.3 372.2 80 371.8C82.7 371.4 85.3 370.9 88 370.6C90.7 370.3 93.5 370 96 369.8C98.5 369.6 100.7 369.6 103 369.6C105.3 369.6 107.2 369.8 110 370C112.8 370.2 116.3 370.6 120 371C123.7 371.4 127.8 371.9 132 372.3C136.2 372.7 140.3 373.1 145 373.4C149.7 373.7 154.5 374 160 374.2C165.5 374.4 171.8 374.7 178 374.8C184.2 374.9 193.8 375 197 375L197 375.2L56 375.2Z" fill="url(#gB1)"/><path d="M118.9 262.3L124.6 273.4L121.6 272.6C120.4 300 114.5 335 105.4 365.6L104.6 365.4C110 335 116 300 116.6 272.6L113.9 273.4Z" fill="#3a6a2a" opacity="0.35" transform="translate(1.4 1.2)"/><path d="M118.9 262.3L124.6 273.4L121.6 272.6C120.4 300 114.5 335 105.4 365.6L104.6 365.4C110 335 116 300 116.6 272.6L113.9 273.4Z" fill="url(#gArr)"/><g stroke="#1a1a1a" stroke-width="1.3" fill="none" stroke-linejoin="miter"><path d="M342.4 321.1V240.8H472.6V321.1Z"/><path d="M279.9 395.9L342.4 321.1M279.9 395.9L279.4 299.9L342.4 240.8"/><path d="M279.9 395.9L436.1 396.4L472.6 321.1"/></g><g stroke="#1a1a1a" stroke-width="1.25"><path d="M279.9 396V400.2"/><path d="M297.2 396V398.4"/><path d="M314.5 396V400.2"/><path d="M331.8 396V398.4"/><path d="M349.1 396V400.2"/><path d="M366.4 396V398.4"/><path d="M383.7 396V400.2"/><path d="M401 396V398.4"/><path d="M418.3 396V400.2"/><path d="M435.6 396V398.4"/></g><text x="279.9" y="409.9" font-size="7.5" font-weight="bold" text-anchor="middle" fill="#111">300</text><text x="314.5" y="409.9" font-size="7.5" font-weight="bold" text-anchor="middle" fill="#111">400</text><text x="349.1" y="409.9" font-size="7.5" font-weight="bold" text-anchor="middle" fill="#111">500</text><text x="383.7" y="409.9" font-size="7.5" font-weight="bold" text-anchor="middle" fill="#111">600</text><text x="418.3" y="409.9" font-size="7.5" font-weight="bold" text-anchor="middle" fill="#111">700</text><text x="358.2" y="421.1" font-size="10.6" font-weight="bold" fill="#111" text-anchor="middle">Wavelength (nm)</text><text transform="translate(270 353) rotate(-90)" font-size="10.4" font-weight="bold" fill="#111" text-anchor="middle">Intensity (a.u.)</text><text transform="matrix(0.335 -0.761 1.28 0 475.4 388.3)" font-size="10" fill="#111" stroke="#111" stroke-width="0.28">Pressure (GPa)</text><g stroke="#1a1a1a" stroke-width="1.1"><path d="M471.2 324.9h3.4"/><path d="M467.1 333.6h3.4"/><path d="M463.3 341.8h3.4"/><path d="M458.9 351.2h3.4"/><path d="M454.6 360.5h3.4"/><path d="M450.2 370.2h3.4"/><path d="M445.2 379.8h3.4"/><path d="M439.9 391.2h3.4"/></g><text x="476.2" y="327.2" font-size="6.9" font-weight="bold" fill="#111">10.7</text><text x="472.1" y="335.9" font-size="6.9" font-weight="bold" fill="#111">9.6</text><text x="468.3" y="344.1" font-size="6.9" font-weight="bold" fill="#111">8.6</text><text x="463.9" y="353.5" font-size="6.9" font-weight="bold" fill="#111">6.3</text><text x="459.6" y="362.8" font-size="6.9" font-weight="bold" fill="#111">5.4</text><text x="455.2" y="372.5" font-size="6.9" font-weight="bold" fill="#111">2.4</text><text x="450.2" y="382.1" font-size="6.9" font-weight="bold" fill="#111">1.7</text><text x="444.9" y="393.5" font-size="6.9" font-weight="bold" fill="#111">1 atm</text><path d="M347 324.9C347.8 324.8 350.4 324.7 352 324C353.6 323.3 355.1 322.7 356.5 320.8C357.9 318.9 359.2 315.8 360.5 312.5C361.8 309.2 362.7 306.5 364 300.8C365.3 295.1 366.8 284.8 368.2 278.2C369.6 271.6 371.1 265 372.5 261.4C373.9 257.8 375.3 257.2 376.7 256.8C378.1 256.4 379.3 257.3 381 259C382.7 260.7 385 263.7 386.7 266.8C388.4 269.9 389.6 273.7 391 277.5C392.4 281.3 393.8 286.2 395.2 289.5C396.6 292.8 398.1 295.1 399.5 297.5C400.9 299.9 402.1 301.8 403.7 303.7C405.3 305.6 407.1 307.5 409 309.2C410.9 310.9 412.8 312.3 415 313.6C417.2 314.9 419.6 316 422 316.9C424.4 317.8 426.4 318.4 429.2 319.2C432 319.9 435.7 320.8 439 321.4C442.3 322 445.7 322.5 449 322.9C452.3 323.3 455.3 323.6 459 323.9C462.7 324.2 469 324.6 471 324.7L471 325.2L347 325.2Z" fill="url(#gRed)"/><path d="M339.2 324.9H353" stroke="#fbd0d0" stroke-width="0.9"/><path d="M343 333.4C344 333.1 347.2 332.6 349 331.5C350.8 330.4 352.4 328.3 354 326.5C355.6 324.7 356.8 322.9 358.3 320.7C359.8 318.4 361.4 314.9 363 313C364.6 311.1 366.5 309.7 368.2 309.2C369.9 308.7 371.5 309.6 373 310.2C374.5 310.8 375.7 311.7 377 312.5C378.3 313.3 379.5 313.9 381 315C382.5 316.1 384.1 317.9 386 319.3C387.9 320.7 390.1 322.3 392.3 323.5C394.5 324.7 396.6 325.6 399 326.5C401.4 327.4 403.5 328 406.5 328.6C409.5 329.2 413.2 329.8 417 330.3C420.8 330.8 424.7 331.1 429 331.4C433.3 331.7 438.2 332.1 443 332.3C447.8 332.6 453.5 332.7 457.5 332.9C461.5 333.1 465.4 333.3 467 333.4L467 333.8L343 333.8Z" fill="url(#gPink)"/><path d="M332 333.5H345" stroke="#fbd0d0" stroke-width="0.9"/><path d="M336 341.8C337.2 341.6 340.7 341.3 343 340.6C345.3 339.9 347.8 338.7 350 337.8C352.2 336.9 354.2 335.7 356 335C357.8 334.3 359.3 333.6 361 333.4C362.7 333.2 364.2 333.3 366 333.6C367.8 333.9 369.7 334.4 372 335C374.3 335.6 377 336.4 380 337C383 337.6 386.3 338.3 390 338.8C393.7 339.3 397.3 339.8 402 340.1C406.7 340.5 411.7 340.7 418 340.9C424.3 341.1 432.5 341.4 440 341.5C447.5 341.6 459.2 341.8 463 341.8L463 342.1L336 342.1Z" fill="url(#gOr)"/><path d="M325.1 341.8H338" stroke="#ffd9c0" stroke-width="0.9"/><path d="M330 351C331.3 350.8 335.5 350.5 338 350C340.5 349.5 342.7 348.5 345 347.8C347.3 347.1 349.8 346.1 352 345.6C354.2 345.1 356 344.8 358 344.7C360 344.6 361.7 344.9 364 345.2C366.3 345.5 368.7 346.1 372 346.6C375.3 347.1 379.3 347.8 384 348.3C388.7 348.8 394 349.2 400 349.6C406 350 413.3 350.2 420 350.4C426.7 350.6 433.5 350.7 440 350.8C446.5 350.9 455.8 351 459 351L459 351.3L330 351.3Z" fill="url(#gYe)"/><path d="M317.4 351H332" stroke="#ffe9b0" stroke-width="0.9"/><path d="M322 360.5C323.7 360.4 328.7 360.2 332 359.8C335.3 359.4 338.7 358.8 342 358.4C345.3 358 348.7 357.6 352 357.4C355.3 357.2 358.2 357.1 362 357.2C365.8 357.3 370 357.7 375 358C380 358.3 385.3 358.9 392 359.2C398.7 359.5 404.6 359.8 415 360C425.4 360.2 448 360.4 454.6 360.5L454.6 360.8L322 360.8Z" fill="#c4e238"/><path d="M309.5 360.5H324" stroke="#eef6c0" stroke-width="0.9"/><path d="M315 370.2C316.8 370.1 322.2 369.9 326 369.6C329.8 369.3 334 368.7 338 368.4C342 368.1 346 367.7 350 367.6C354 367.5 357.3 367.5 362 367.6C366.7 367.7 372 368.1 378 368.4C384 368.7 391 369.1 398 369.4C405 369.6 411.3 369.8 420 369.9C428.7 370 445.2 370.1 450.2 370.2L450.2 370.5L315 370.5Z" fill="#8ccc3c"/><path d="M301.4 370.2H317" stroke="#dcefc4" stroke-width="0.9"/><path d="M300 379.8C302.7 379.7 311 379.5 316 379.2C321 378.9 325.3 378.3 330 378C334.7 377.7 339.3 377.3 344 377.2C348.7 377.1 352.7 377.1 358 377.3C363.3 377.5 369.3 377.8 376 378.1C382.7 378.4 390.7 378.8 398 379C405.3 379.2 412.1 379.4 420 379.5C427.9 379.6 441 379.8 445.2 379.8L445.2 380.2L300 380.2Z" fill="#6fb83c"/><path d="M293.4 379.8H302" stroke="#cfe6bc" stroke-width="0.9"/><path d="M300 391.2C301 391.1 304 390.8 306 390.4C308 390 309.8 389.4 312 388.6C314.2 387.8 316.7 386.8 319 385.8C321.3 384.8 323.7 383.6 326 382.6C328.3 381.6 330.8 380.7 333 380C335.2 379.3 337 378.9 339 378.6C341 378.3 342.8 378.2 345 378.2C347.2 378.2 349.5 378.4 352 378.8C354.5 379.2 357 379.7 360 380.4C363 381.1 366.3 382 370 382.8C373.7 383.6 377.8 384.6 382 385.4C386.2 386.2 390.3 387 395 387.6C399.7 388.2 405 388.8 410 389.3C415 389.8 420 390.1 425 390.4C430 390.7 437.4 391.1 439.9 391.2L439.9 391.5L300 391.5Z" fill="#38bdf2"/><path d="M283.8 391.2H301" stroke="#c4ecfb" stroke-width="0.9"/>
<text x="499.4" y="244.9" font-weight="bold" fill="#000"><tspan font-size="17.6">(</tspan><tspan font-size="19.6" dy="1.1" dx="-0.4">e</tspan><tspan font-size="17.6" dy="-1.1" dx="-0.4">)</tspan></text><rect x="541.6" y="239.8" width="233.60000000000002" height="153.2" fill="none" stroke="#000" stroke-width="1.9"/><g stroke="#000" stroke-width="1.6"><path d="M537.4 393H541.6"/><path d="M537.4 365.8H541.6"/><path d="M537.4 338.6H541.6"/><path d="M537.4 311.4H541.6"/><path d="M537.4 284.2H541.6"/><path d="M539.2 379.4H541.6"/><path d="M539.2 352.2H541.6"/><path d="M539.2 325H541.6"/><path d="M539.2 297.8H541.6"/><path d="M537.4 262.6H541.6"/><path d="M537.4 243.8H541.6"/><path d="M539.2 253.2H541.6"/><path d="M555.4 393V397.2"/><path d="M596.6 393V397.2"/><path d="M637.8 393V397.2"/><path d="M679 393V397.2"/><path d="M720.2 393V397.2"/><path d="M761.4 393V397.2"/><path d="M576 393V395.4"/><path d="M617.2 393V395.4"/><path d="M658.4 393V395.4"/><path d="M699.6 393V395.4"/><path d="M740.8 393V395.4"/></g><rect x="538.1" y="262.2" width="7" height="2.6" fill="#fff" transform="rotate(-18 541.6 263.5)"/><path d="M538.0 263.4L545.2 261M538.0 266L545.2 263.6" stroke="#000" stroke-width="1.2"/><rect x="771.7" y="262.2" width="7" height="2.6" fill="#fff" transform="rotate(-18 775.2 263.5)"/><path d="M771.6 263.4L778.8000000000001 261M771.6 266L778.8000000000001 263.6" stroke="#000" stroke-width="1.2"/><text x="534.6" y="396.1" font-size="9" font-weight="bold" text-anchor="end" fill="#111">0</text><text x="534.6" y="368.9" font-size="9" font-weight="bold" text-anchor="end" fill="#111">2</text><text x="534.6" y="341.7" font-size="9" font-weight="bold" text-anchor="end" fill="#111">4</text><text x="534.6" y="314.5" font-size="9" font-weight="bold" text-anchor="end" fill="#111">6</text><text x="534.6" y="287.3" font-size="9" font-weight="bold" text-anchor="end" fill="#111">8</text><text x="534.6" y="265.7" font-size="9" font-weight="bold" text-anchor="end" fill="#111">30</text><text x="534.6" y="246.8" font-size="9" font-weight="bold" text-anchor="end" fill="#111">32</text><text x="555.4" y="407.6" font-size="9" font-weight="bold" text-anchor="middle" fill="#111">0</text><text x="596.6" y="407.6" font-size="9" font-weight="bold" text-anchor="middle" fill="#111">3</text><text x="637.8" y="407.6" font-size="9" font-weight="bold" text-anchor="middle" fill="#111">6</text><text x="679" y="407.6" font-size="9" font-weight="bold" text-anchor="middle" fill="#111">9</text><text x="720.2" y="407.6" font-size="9" font-weight="bold" text-anchor="middle" fill="#111">12</text><text x="761.4" y="407.6" font-size="9" font-weight="bold" text-anchor="middle" fill="#111">15</text><text x="658.5" y="420" font-size="10.7" font-weight="bold" text-anchor="middle" fill="#111">Pressure (GPa)</text><text transform="translate(520.3 323.5) rotate(-90)" font-size="10.4" font-weight="bold" text-anchor="middle" fill="#111">PLQY (%)</text><path d="M555.4 362.2L562 380L570.6 382L578.4 378.8L587 378.8L602.2 377.6L629.4 370.7L641.8 370.7L655.4 368.6L673.6 357.5L687.3 339.6L702.4 269.6L721.7 293.1L753 377.1" fill="none" stroke="#2f9e2f" stroke-width="2" stroke-linejoin="round"/><defs><radialGradient id="gb" cx="0.38" cy="0.32" r="0.7"><stop offset="0" stop-color="#d8f4cc"/><stop offset="0.3" stop-color="#4fb548"/><stop offset="1" stop-color="#1f8a25"/></radialGradient>
<radialGradient id="rb" cx="0.38" cy="0.32" r="0.7"><stop offset="0" stop-color="#f6b4b4"/><stop offset="0.25" stop-color="#dc4450"/><stop offset="1" stop-color="#b81f32"/></radialGradient></defs><circle cx="555.4" cy="362.2" r="3.7" fill="url(#gb)"/><circle cx="562" cy="380" r="3.7" fill="url(#gb)"/><circle cx="570.6" cy="382" r="3.7" fill="url(#gb)"/><circle cx="578.4" cy="378.8" r="3.7" fill="url(#gb)"/><circle cx="587" cy="378.8" r="3.7" fill="url(#gb)"/><circle cx="602.2" cy="377.6" r="3.7" fill="url(#gb)"/><circle cx="629.4" cy="370.7" r="3.7" fill="url(#gb)"/><circle cx="641.8" cy="370.7" r="3.7" fill="url(#gb)"/><circle cx="655.4" cy="368.6" r="3.7" fill="url(#gb)"/><circle cx="673.6" cy="357.5" r="3.7" fill="url(#gb)"/><circle cx="687.3" cy="339.6" r="3.7" fill="url(#gb)"/><circle cx="702.4" cy="269.6" r="3.7" fill="url(#gb)"/><circle cx="721.7" cy="293.1" r="3.7" fill="url(#gb)"/><circle cx="753" cy="377.1" r="3.7" fill="url(#gb)"/><circle cx="555.2" cy="248.5" r="3.9" fill="url(#rb)"/><text x="563.9" y="261.6" font-size="9.8" font-weight="bold" fill="#d23a48">Released</text><text x="561.8" y="362.9" font-size="9.8" font-weight="bold" fill="#3aa53a">1 atm</text>
</svg>
</body></html>
